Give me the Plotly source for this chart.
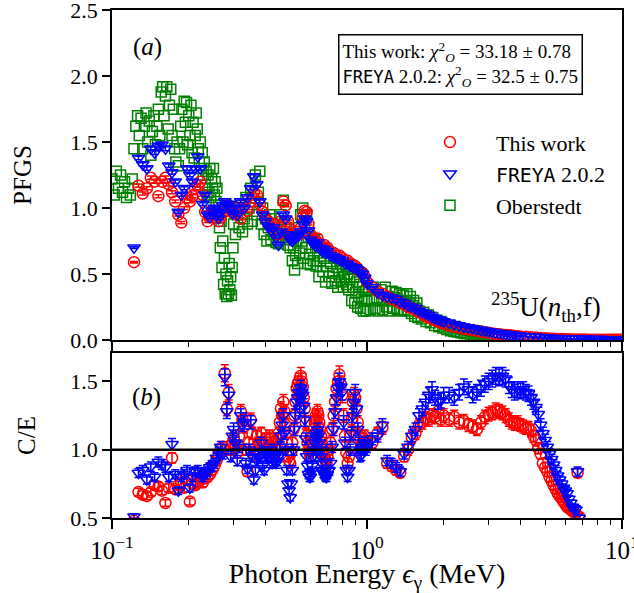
import plotly.graph_objects as go

# ---------------- data ----------------
# Photon energies (MeV) of the model bins (top panel)
E_pfgs = [0.122, 0.127, 0.132, 0.137, 0.142, 0.147, 0.152, 0.157, 0.162, 0.167, 0.172, 0.177,
          0.182, 0.187, 0.192, 0.197, 0.202, 0.207, 0.212, 0.217, 0.222, 0.227, 0.232, 0.237,
          0.242, 0.247, 0.252, 0.257, 0.262, 0.267, 0.272, 0.277, 0.282, 0.287, 0.292, 0.297,
          0.30, 0.31, 0.32, 0.33, 0.34, 0.35, 0.36, 0.37, 0.38, 0.39, 0.40, 0.41, 0.42, 0.43,
          0.44, 0.45, 0.46, 0.47, 0.48, 0.49, 0.50, 0.51, 0.52, 0.53, 0.54, 0.55, 0.56, 0.57,
          0.58, 0.59, 0.60, 0.61, 0.62, 0.63, 0.64, 0.65, 0.66, 0.67, 0.68, 0.69, 0.70, 0.72,
          0.74, 0.76, 0.78, 0.80, 0.82, 0.84, 0.86, 0.88, 0.90, 0.92, 0.94, 0.96, 0.98, 1.00,
          1.05, 1.10, 1.15, 1.20, 1.25, 1.30, 1.35, 1.40, 1.45, 1.50, 1.55, 1.60, 1.65, 1.70,
          1.75, 1.80, 1.85, 1.90, 1.95, 2.00,
          2.1, 2.2, 2.3, 2.4, 2.5, 2.6, 2.7, 2.8, 2.9, 3.0, 3.1, 3.2, 3.3, 3.4, 3.5, 3.6, 3.7,
          3.8, 3.9, 4.0,
          4.2, 4.4, 4.6, 4.8, 5.0, 5.2, 5.4, 5.6, 5.8, 6.0, 6.2, 6.4, 6.6, 6.8, 7.0, 7.2, 7.4,
          7.6, 7.8, 8.0, 8.2, 8.4, 8.6, 8.8, 9.0, 9.2, 9.4, 9.6, 9.8, 10.0]

pfgs_this_work = [0.59, 1.17, 1.11, 1.15, 1.23, 1.20, 1.09, 1.20, 1.23, 1.18, 1.12, 1.05,
                  0.95, 0.89, 1.00, 1.08, 1.05, 1.09, 1.15, 1.17, 1.20, 1.10, 0.97, 0.90,
                  0.93, 0.95, 0.98, 0.93, 0.90, 0.93, 0.97, 1.00, 0.98, 1.02, 1.00, 0.98,
                  0.96, 1.00, 0.92, 1.02, 0.98, 1.05, 1.12, 1.10, 1.03, 0.97, 0.92, 0.90, 0.86, 0.88,
                  0.84, 0.80, 0.90, 1.05, 1.02, 0.90, 0.84, 0.80, 0.78, 0.82, 0.80, 0.85, 0.93, 0.98,
                  0.97, 0.88, 0.80, 0.78, 0.76, 0.74, 0.77, 0.73, 0.72, 0.70, 0.72, 0.69, 0.70, 0.67,
                  0.66, 0.64, 0.64, 0.62, 0.60, 0.60, 0.58, 0.57, 0.56, 0.54, 0.52, 0.51, 0.48, 0.44,
                  0.40, 0.37, 0.35, 0.33, 0.31, 0.30, 0.28, 0.27, 0.25, 0.24, 0.23, 0.21, 0.20, 0.18,
                  0.17, 0.16, 0.15, 0.14, 0.13, 0.125,
                  0.11, 0.10, 0.094, 0.085, 0.08, 0.075, 0.07, 0.064, 0.059, 0.054, 0.05, 0.046,
                  0.043, 0.040, 0.038, 0.036, 0.034, 0.031, 0.029, 0.027,
                  0.024, 0.021, 0.018, 0.016, 0.013, 0.011, 0.0095, 0.008, 0.007, 0.006, 0.0052,
                  0.0046, 0.004, 0.0036, 0.0032, 0.0029, 0.0026, 0.0024, 0.0022, 0.002, 0.0018,
                  0.0017, 0.0016, 0.0015, 0.0014, 0.0013, 0.0012, 0.0011, 0.001, 0.001]

pfgs_freya = [0.70, 1.38, 1.33, 1.30, 1.45, 1.42, 1.47, 1.48, 1.45, 1.32, 1.27, 1.20,
              0.97, 1.10, 1.15, 1.30, 1.25, 1.20, 1.30, 1.39, 1.30, 1.03, 1.10, 0.95,
              0.93, 0.98, 1.00, 0.95, 0.92, 0.97, 1.02, 1.05, 1.02, 1.03, 1.00, 0.96,
              1.00, 0.95, 1.05, 1.00, 1.08, 1.15, 1.24, 1.18, 1.05, 0.95, 0.90, 0.86, 0.83, 0.85,
              0.78, 0.72, 0.82, 0.95, 0.92, 0.80, 0.76, 0.75, 0.77, 0.80, 0.79, 0.82, 0.88, 0.92,
              0.90, 0.83, 0.76, 0.74, 0.73, 0.71, 0.74, 0.70, 0.69, 0.67, 0.69, 0.66, 0.67, 0.64,
              0.63, 0.62, 0.61, 0.60, 0.58, 0.58, 0.56, 0.55, 0.55, 0.53, 0.51, 0.50, 0.47, 0.43,
              0.40, 0.36, 0.34, 0.33, 0.32, 0.31, 0.29, 0.28, 0.26, 0.25, 0.24, 0.22, 0.21, 0.20,
              0.19, 0.175, 0.165, 0.155, 0.15, 0.14,
              0.13, 0.12, 0.11, 0.10, 0.095, 0.088, 0.082, 0.075, 0.07, 0.065, 0.06, 0.056,
              0.052, 0.048, 0.045, 0.042, 0.039, 0.036, 0.034, 0.031,
              0.028, 0.025, 0.022, 0.020, 0.018, 0.016, 0.014, 0.013, 0.012, 0.011, 0.010,
              0.0095, 0.009, 0.0085, 0.008, 0.0075, 0.007, 0.0065, 0.006, 0.0056, 0.0052,
              0.0048, 0.0045, 0.0042, 0.0039, 0.0036, 0.0034, 0.0032, 0.0030, 0.0028]

# Oberstedt measurement (fine binning)
E_oberstedt = [0.100, 0.102, 0.104, 0.106, 0.108, 0.110, 0.112, 0.114, 0.116, 0.118, 0.120,
               0.122, 0.124, 0.126, 0.128, 0.130, 0.132, 0.134, 0.136, 0.138, 0.140, 0.142,
               0.144, 0.146, 0.148, 0.150, 0.152, 0.154, 0.156, 0.158, 0.160, 0.162, 0.164,
               0.166, 0.168, 0.170, 0.172, 0.174, 0.176, 0.178, 0.180, 0.182, 0.184, 0.186,
               0.188, 0.190, 0.192, 0.194, 0.196, 0.198, 0.200, 0.202, 0.204, 0.206, 0.208,
               0.210, 0.212, 0.214, 0.216, 0.218, 0.220, 0.222, 0.224, 0.226, 0.228, 0.230,
               0.232, 0.234, 0.236, 0.238, 0.240, 0.242, 0.244, 0.246, 0.248, 0.250, 0.252,
               0.254, 0.256, 0.258, 0.260, 0.262, 0.264, 0.266, 0.268, 0.270, 0.272, 0.274,
               0.276, 0.278, 0.280, 0.282, 0.284, 0.286, 0.288, 0.290, 0.292, 0.294, 0.296,
               0.298,
               0.300, 0.305, 0.310, 0.315, 0.320, 0.325, 0.330, 0.335, 0.340, 0.345, 0.350,
               0.355, 0.360, 0.365, 0.370, 0.375, 0.380, 0.385, 0.390, 0.395, 0.400, 0.405,
               0.410, 0.415, 0.420, 0.425, 0.430, 0.435, 0.440, 0.445, 0.450, 0.455, 0.460,
               0.465, 0.470, 0.475, 0.480, 0.485, 0.490, 0.495, 0.500, 0.505, 0.510, 0.515,
               0.520, 0.525, 0.530, 0.535, 0.540, 0.545, 0.550, 0.555, 0.560, 0.565, 0.570,
               0.575, 0.580, 0.585, 0.590, 0.595, 0.600,
               0.608, 0.616, 0.624, 0.632, 0.640, 0.648, 0.656, 0.664, 0.672, 0.680, 0.688,
               0.696, 0.704, 0.712, 0.720, 0.728, 0.736, 0.744, 0.752, 0.760, 0.768, 0.776,
               0.784, 0.792, 0.800, 0.808, 0.816, 0.824, 0.832, 0.840, 0.848, 0.856, 0.864,
               0.872, 0.880, 0.888, 0.896, 0.904, 0.912, 0.920, 0.928, 0.936, 0.944, 0.952,
               0.960, 0.968, 0.976, 0.984, 0.992, 1.000,
               1.015, 1.030, 1.045, 1.060, 1.075, 1.090, 1.105, 1.120, 1.135, 1.150, 1.165,
               1.180, 1.195, 1.210, 1.225, 1.240, 1.255, 1.270, 1.285, 1.300, 1.315, 1.330,
               1.345, 1.360, 1.375, 1.390, 1.405, 1.420, 1.435, 1.450, 1.465, 1.480, 1.495,
               1.510, 1.525, 1.540, 1.555, 1.570, 1.585, 1.600,
               1.635, 1.670, 1.705, 1.740, 1.775, 1.810, 1.845, 1.880, 1.915, 1.950, 1.985,
               2.020, 2.055, 2.090, 2.125, 2.160, 2.195, 2.230, 2.265, 2.300, 2.335, 2.370,
               2.405, 2.440, 2.475, 2.510, 2.545, 2.580, 2.615, 2.650, 2.685, 2.720, 2.755,
               2.790, 2.825, 2.860, 2.895, 2.930, 2.965, 3.000,
               3.2, 3.4, 3.6, 3.8, 4.0, 4.3, 4.6, 5.0, 5.5, 6.0]

pfgs_oberstedt = [1.22, 1.10, 1.28, 1.15, 1.25, 1.12, 1.20, 1.08, 1.15, 1.10, 1.22,
                  1.45, 1.62, 1.70, 1.55, 1.68, 1.45, 1.62, 1.72, 1.50, 1.66, 1.40,
                  1.58, 1.70, 1.48, 1.62, 1.75, 1.55, 1.88, 1.92, 1.70, 1.85, 1.92,
                  1.60, 1.78, 1.90, 1.55, 1.75, 1.45, 1.35, 1.50, 1.32, 1.45, 1.62,
                  1.75, 1.50, 1.81, 1.65, 1.80, 1.48, 1.70, 1.55, 1.78, 1.42, 1.65,
                  1.38, 1.55, 1.72, 1.60, 1.45, 1.35, 1.50, 1.30, 1.42, 1.25, 1.35,
                  1.15, 1.28, 1.10, 1.25, 1.12, 1.30, 1.08, 1.22, 1.15, 1.30, 1.10,
                  1.20, 1.05, 1.15, 0.95, 1.02, 0.85, 0.70, 0.90, 0.55, 0.75, 0.42,
                  0.62, 0.35, 0.50, 0.33, 0.45, 0.35, 0.58, 0.38, 0.48, 0.34, 0.55,
                  0.70,
                  0.88, 0.80, 0.95, 0.85, 1.02, 0.82, 0.92, 1.08, 0.88, 1.00, 1.15,
                  0.90, 1.05, 1.25, 0.95, 1.12, 1.28, 0.88, 1.00, 0.80, 0.92, 0.75,
                  0.85, 0.95, 0.76, 0.88, 0.80, 0.92, 0.74, 0.84, 0.73, 0.82, 0.95,
                  0.78, 1.06, 0.88, 0.76, 0.84, 0.72, 0.80, 0.70, 0.78, 0.60, 0.70,
                  0.53, 0.64, 0.75, 0.58, 0.85, 0.66, 0.95, 0.75, 1.00, 0.62, 0.85,
                  0.70, 0.95, 0.58, 0.78, 0.65, 0.57,
                  0.70, 0.60, 0.76, 0.56, 0.66, 0.48, 0.60, 0.70, 0.52, 0.62, 0.44,
                  0.56, 0.66, 0.48, 0.58, 0.43, 0.52, 0.62, 0.45, 0.55, 0.40, 0.50,
                  0.60, 0.44, 0.53, 0.40, 0.48, 0.57, 0.42, 0.50, 0.38, 0.46, 0.54,
                  0.30, 0.40, 0.48, 0.28, 0.36, 0.44, 0.25, 0.33, 0.42, 0.24, 0.31,
                  0.40, 0.22, 0.30, 0.37, 0.22, 0.30,
                  0.38, 0.23, 0.31, 0.40, 0.24, 0.32, 0.22, 0.30, 0.38, 0.23, 0.31,
                  0.40, 0.25, 0.33, 0.22, 0.30, 0.37, 0.24, 0.32, 0.36, 0.23, 0.30,
                  0.35, 0.22, 0.29, 0.34, 0.23, 0.30, 0.35, 0.22, 0.28, 0.33, 0.20,
                  0.26, 0.30, 0.18, 0.24, 0.28, 0.17, 0.22,
                  0.16, 0.21, 0.14, 0.19, 0.13, 0.17, 0.11, 0.15, 0.10, 0.14, 0.09,
                  0.12, 0.08, 0.11, 0.07, 0.10, 0.065, 0.09, 0.06, 0.085, 0.055, 0.08,
                  0.05, 0.075, 0.05, 0.07, 0.045, 0.065, 0.04, 0.06, 0.04, 0.055, 0.035,
                  0.05, 0.035, 0.045, 0.03, 0.04, 0.03, 0.035,
                  0.03, 0.025, 0.02, 0.018, 0.015, 0.012, 0.01, 0.008, 0.006, 0.004]

# C/E ratios (bottom panel)
E_ce = [0.122, 0.127, 0.132, 0.137, 0.142, 0.147, 0.152, 0.157, 0.162, 0.167, 0.172, 0.177,
        0.182, 0.187, 0.192, 0.197, 0.202, 0.207, 0.212, 0.217, 0.222, 0.227, 0.232, 0.237,
        0.242, 0.247, 0.252, 0.257, 0.262, 0.267, 0.272, 0.277, 0.282, 0.287, 0.292, 0.297,
        0.30, 0.305, 0.31, 0.315, 0.32, 0.325, 0.33, 0.335, 0.34, 0.345, 0.35, 0.355, 0.36,
        0.365, 0.37, 0.375, 0.38, 0.385, 0.39, 0.395, 0.40, 0.405, 0.41, 0.415, 0.42, 0.425,
        0.43, 0.435, 0.44, 0.445, 0.45, 0.455, 0.46, 0.465, 0.47, 0.475, 0.48, 0.485, 0.49,
        0.495, 0.50, 0.505, 0.51, 0.515, 0.52, 0.525, 0.53, 0.535, 0.54, 0.545, 0.55, 0.555,
        0.56, 0.565, 0.57, 0.575, 0.58, 0.585, 0.59, 0.595, 0.60, 0.605, 0.61, 0.615, 0.62,
        0.625, 0.63, 0.635, 0.64, 0.645, 0.65, 0.655, 0.66, 0.665, 0.67, 0.675, 0.68, 0.685,
        0.69, 0.695, 0.70, 0.71, 0.72, 0.73, 0.74, 0.75, 0.76, 0.77, 0.78, 0.79, 0.80, 0.81,
        0.82, 0.83, 0.84, 0.85, 0.86, 0.87, 0.88, 0.89, 0.90, 0.91, 0.92, 0.93, 0.94, 0.95,
        0.96, 0.97, 0.98, 0.99, 1.00,
        1.05, 1.10, 1.15, 1.20, 1.25, 1.30, 1.35, 1.40, 1.45, 1.50, 1.55, 1.60, 1.65, 1.70,
        1.75, 1.80, 1.85, 1.90, 1.95, 2.00,
        2.1, 2.2, 2.3, 2.4, 2.5, 2.6, 2.7, 2.8, 2.9, 3.0, 3.1, 3.2, 3.3, 3.4, 3.5, 3.6, 3.7,
        3.8, 3.9, 4.0, 4.1, 4.2, 4.3, 4.4, 4.5, 4.6, 4.7, 4.8, 4.9, 5.0, 5.1, 5.2, 5.3, 5.4,
        5.5, 5.6, 5.7, 5.8, 5.9, 6.0, 6.1, 6.2, 6.3, 6.4, 6.5, 6.6, 6.7, 6.8]

ce_this_work = [0.48, 0.69, 0.67, 0.66, 0.69, 0.74, 0.73, 0.70, 0.61, 0.72, 0.94, 0.71,
                0.74, 0.76, 0.72, 0.78, 0.62, 0.75, 0.74, 0.76, 0.78, 0.76, 0.79, 0.80,
                0.82, 0.85, 0.88, 0.92, 0.96, 1.00, 1.02, 1.56, 1.30, 1.42, 1.00, 1.05,
                1.08, 1.02, 0.98, 1.10, 1.28, 1.22, 1.17, 1.00, 0.84, 1.05, 1.22, 1.12, 1.00,
                0.95, 1.10, 1.05, 1.05, 1.12, 1.00, 0.98, 1.08, 1.05, 1.03, 1.10, 1.08, 0.98,
                1.05, 1.02, 1.00, 1.08, 1.12, 1.20, 1.30, 1.25, 1.35, 1.28, 1.18, 1.05, 0.95,
                0.92, 0.90, 0.98, 1.05, 1.15, 1.25, 1.35, 1.45, 1.48, 1.50, 1.40, 1.54, 1.50,
                1.46, 1.38, 1.30, 1.20, 1.10, 1.05, 1.00, 0.98, 0.95, 1.00, 1.05, 1.10, 1.15,
                1.20, 1.25, 1.22, 1.28, 1.25, 1.20, 1.15, 1.10, 1.05, 1.00, 0.98, 0.95, 0.93,
                0.92, 0.90, 0.95, 1.00, 1.05, 1.15, 1.25, 1.35, 1.45, 1.50, 1.55, 1.48, 1.40, 1.25,
                1.10, 0.98, 0.90, 0.95, 1.10, 1.22, 1.35, 1.40, 1.38, 1.30, 1.20, 1.10, 1.00, 1.02,
                1.05, 1.08, 1.10, 1.06, 1.05,
                1.05, 1.12, 1.16, 0.90, 0.88, 0.85, 0.83, 0.95, 1.00, 1.09, 1.12, 1.18, 1.20, 1.23,
                1.22, 1.25, 1.24, 1.28, 1.22, 1.25,
                1.22, 1.24, 1.20, 1.21, 1.18, 1.17, 1.15, 1.20, 1.24, 1.26, 1.27, 1.29, 1.28, 1.27,
                1.25, 1.22, 1.20, 1.19, 1.20, 1.18, 1.17, 1.16, 1.16, 1.14, 1.10, 1.07, 1.01, 0.97,
                0.90, 0.87, 0.84, 0.80, 0.77, 0.74, 0.71, 0.68, 0.66, 0.64, 0.62, 0.60, 0.58, 0.57,
                0.56, 0.55, 0.54, 0.53, 0.83, 0.51]

ce_freya = [0.51, 0.83, 0.85, 0.78, 0.875, 0.80, 0.91, 0.89, 0.87, 0.80, 1.04, 0.82,
            0.70, 0.80, 0.82, 0.85, 0.72, 0.80, 0.84, 0.85, 0.83, 0.80, 0.82, 0.84,
            0.87, 0.88, 0.90, 0.94, 0.98, 1.02, 0.97, 1.53, 1.28, 1.40, 0.95, 1.10,
            1.15, 1.05, 0.92, 1.02, 1.25, 1.18, 1.20, 0.90, 0.86, 1.00, 1.20, 0.95, 0.78,
            0.85, 0.92, 0.95, 0.95, 1.05, 0.88, 0.85, 0.98, 0.96, 0.94, 0.98, 1.00, 0.90,
            0.92, 0.95, 0.90, 0.92, 0.95, 1.02, 1.10, 1.18, 1.25, 1.12, 1.00, 0.85, 0.75,
            0.70, 0.65, 0.75, 0.85, 1.00, 1.15, 1.25, 1.35, 1.38, 1.42, 1.30, 1.45, 1.42,
            1.40, 1.32, 1.22, 1.08, 0.95, 0.88, 0.82, 0.80, 0.80, 0.84, 0.88, 0.95, 1.00,
            1.05, 1.10, 1.12, 1.15, 1.10, 1.05, 1.00, 0.95, 0.90, 0.85, 0.83, 0.82, 0.81,
            0.80, 0.80, 0.82, 0.85, 0.90, 1.02, 1.15, 1.28, 1.38, 1.45, 1.50, 1.46, 1.42, 1.20,
            1.05, 0.85, 0.80, 0.85, 1.00, 1.12, 1.25, 1.35, 1.42, 1.30, 1.15, 1.05, 0.95, 0.96,
            1.00, 1.02, 1.05, 1.00, 1.02,
            1.08, 1.10, 1.18, 0.92, 0.90, 0.87, 0.84, 0.97, 1.02, 1.10, 1.15, 1.25, 1.30, 1.35,
            1.40, 1.44, 1.38, 1.35, 1.36, 1.40,
            1.40, 1.38, 1.42, 1.46, 1.44, 1.40, 1.42, 1.45, 1.48, 1.50, 1.52, 1.54, 1.53, 1.54,
            1.52, 1.47, 1.44, 1.42, 1.44, 1.43, 1.44, 1.42, 1.41, 1.38, 1.35, 1.31, 1.26, 1.18,
            1.12, 1.07, 1.02, 0.97, 0.93, 0.89, 0.85, 0.81, 0.78, 0.75, 0.72, 0.70, 0.68, 0.64,
            0.61, 0.58, 0.57, 0.56, 0.84, 0.50]

x_major = [0.1, 1, 10]
x_major_text = ["10<sup>\u22121</sup>", "10<sup>0</sup>", "10<sup>1</sup>"]
x_minor = [0.2, 0.3, 0.4, 0.5, 0.6, 0.7, 0.8, 0.9, 2, 3, 4, 5, 6, 7, 8, 9]

# ---------------- styling ----------------
FONT = "Liberation Serif"
RED, BLUE, GREEN = "#ff0000", "#0000ff", "#008000"
TT = "<span style=\"font-family:DejaVu Sans Mono;font-size:90%\">FREYA</span>"

fig = go.Figure()

fig.add_trace(go.Scatter(
    x=E_oberstedt, y=pfgs_oberstedt, mode="markers", name="Oberstedt", legendrank=3,
    marker=dict(symbol="square-open", size=10, color=GREEN, line=dict(width=1.5, color=GREEN)),
    xaxis="x", yaxis="y"))
fig.add_trace(go.Scatter(
    x=E_pfgs, y=pfgs_this_work, mode="markers", name="This work", legendrank=1,
    marker=dict(symbol="circle-open", size=11, color=RED, line=dict(width=1.5, color=RED)),
    error_y=dict(type="percent", value=1, color=RED, thickness=1.5, width=4),
    xaxis="x", yaxis="y"))
fig.add_trace(go.Scatter(
    x=E_pfgs, y=pfgs_freya, mode="markers", name=TT + " 2.0.2", legendrank=2,
    marker=dict(symbol="triangle-down-open", size=11, color=BLUE, line=dict(width=1.5, color=BLUE)),
    error_y=dict(type="percent", value=1, color=BLUE, thickness=1.5, width=4),
    xaxis="x", yaxis="y"))

fig.add_trace(go.Scatter(
    x=E_ce, y=ce_this_work, mode="markers", showlegend=False,
    marker=dict(symbol="circle-open", size=11, color=RED, line=dict(width=1.5, color=RED)),
    error_y=dict(type="percent", value=4, color=RED, thickness=1.5, width=4),
    xaxis="x2", yaxis="y2"))
fig.add_trace(go.Scatter(
    x=E_ce, y=ce_freya, mode="markers", showlegend=False,
    marker=dict(symbol="triangle-down-open", size=11, color=BLUE, line=dict(width=1.5, color=BLUE)),
    error_y=dict(type="percent", value=4, color=BLUE, thickness=1.5, width=4),
    xaxis="x2", yaxis="y2"))

# invisible helper traces (far outside the y range) so the minor-tick axes get drawn
for xa, ya in (("x3", "y"), ("x4", "y2")):
    fig.add_trace(go.Scatter(x=x_minor, y=[-10] * len(x_minor), mode="markers",
                             marker=dict(opacity=0), showlegend=False, hoverinfo="skip",
                             xaxis=xa, yaxis=ya))

XR = [-1, 1.0004]
xcommon = dict(type="log", range=XR, showgrid=False, zeroline=False, automargin=False,
               showline=True, linecolor="black", linewidth=1.5, mirror=True,
               ticks="outside", ticklen=9, tickwidth=1.8, tickcolor="black",
               tickmode="array", tickvals=x_major, ticklabeloverflow="allow",
               minor=dict(dtick="D1", ticks="outside", ticklen=5, tickwidth=1.4,
                          tickcolor="black", showgrid=False),
               tickfont=dict(family=FONT, size=25, color="black"))
xminor = dict(type="log", range=XR, showgrid=False, zeroline=False, showline=False,
              automargin=False, ticks="outside", ticklen=5, tickwidth=1.4, tickcolor="black",
              tickmode="array", tickvals=x_minor, showticklabels=False, side="bottom")
ycommon = dict(showgrid=False, zeroline=False, showline=True, linecolor="black",
               linewidth=1.5, mirror=True, ticks="outside", ticklen=8, tickwidth=1.8,
               automargin=False, ticklabeloverflow="allow",
               tickcolor="black", tickfont=dict(family=FONT, size=22, color="black"))

fig.update_layout(
    width=634, height=593,
    margin=dict(l=112, r=12, t=10, b=75, autoexpand=False),
    paper_bgcolor="white", plot_bgcolor="white",
    font=dict(family=FONT, color="black"),
    xaxis=dict(**xcommon, anchor="y", showticklabels=False, domain=[0, 1]),
    yaxis=dict(**ycommon, domain=[0.3504, 1], range=[0, 2.5015],
               tickvals=[0, 0.5, 1, 1.5, 2, 2.5],
               ticktext=["0.0", "0.5", "1.0", "1.5", "2.0", "2.5"],
               title=dict(text="PFGS", font=dict(family=FONT, size=25), standoff=32)),
    xaxis2=dict(**xcommon, anchor="y2", domain=[0, 1], ticktext=x_major_text,
                title=dict(text="Photon Energy <i>\u03f5</i><sub>\u03b3</sub> (MeV)",
                           font=dict(family=FONT, size=28), standoff=8)),
    yaxis2=dict(**ycommon, domain=[0, 0.3248], range=[0.5, 1.708],
                tickvals=[0.5, 1.0, 1.5], ticktext=["0.5", "1.0", "1.5"],
                title=dict(text="C/E", font=dict(family=FONT, size=25), standoff=28)),
    xaxis3=dict(**xminor, overlaying="x", anchor="y"),
    xaxis4=dict(**xminor, overlaying="x2", anchor="y2"),
    legend=dict(x=0.5725, y=0.781, xanchor="left", yanchor="top", itemwidth=82,
                bgcolor="rgba(0,0,0,0)", font=dict(family=FONT, size=22, color="black")),
    shapes=[dict(type="line", xref="x2 domain", yref="y2", x0=0, x1=1, y0=1, y1=1,
                 line=dict(color="black", width=2.5), layer="above")],
    annotations=[
        dict(text="(<i>a</i>)", x=0.07, y=0.927, xref="paper", yref="paper",
             xanchor="center", yanchor="middle",
             showarrow=False, font=dict(family=FONT, size=25)),
        dict(text="(<i>b</i>)", x=0.067, y=0.239, xref="paper", yref="paper",
             xanchor="center", yanchor="middle",
             showarrow=False, font=dict(family=FONT, size=25)),
        dict(text="This work: <i>\u03c7</i><sup>2</sup><sub><i>O</i></sub> = 33.18 \u00b1 0.78<br>"
                  + TT + " 2.0.2: <i>\u03c7</i><sup>2</sup><sub><i>O</i></sub> = 32.5 \u00b1 0.75",
             x=0.684, y=0.8935, xref="paper", yref="paper", showarrow=False, align="left",
             xanchor="center", yanchor="middle",
             font=dict(family=FONT, size=19), bordercolor="black", borderwidth=1.5,
             borderpad=3, bgcolor="white"),
        dict(text="<sup>235</sup>U(<i>n</i><sub>th</sub>,f)", x=0.851, y=0.416,
             xref="paper", yref="paper", showarrow=False, xanchor="center", yanchor="middle",
             font=dict(family=FONT, size=27)),
    ],
)

fig.write_html("out.html")
